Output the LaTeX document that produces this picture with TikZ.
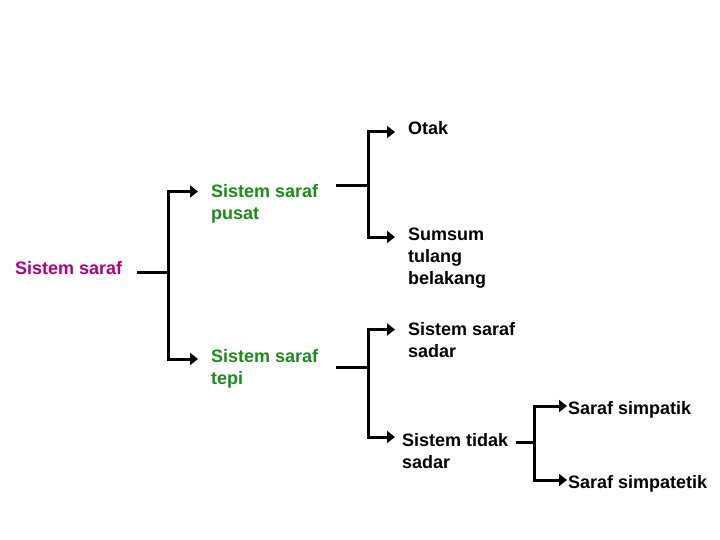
\documentclass[tikz,border=0pt]{standalone}
\usepackage{fontspec}
\setmainfont{Liberation Sans}
\usetikzlibrary{arrows.meta, calc, positioning}
\definecolor{sarafmagenta}{RGB}{175,0,125}
\definecolor{sarafgreen}{RGB}{25,140,25}
\tikzset{
  lbl/.style={anchor=base west, inner sep=0pt, align=left,
    font=\fontsize{18}{22}\selectfont\bfseries},
  bar/.style={line width=3pt, line join=miter},
  arr/.style={bar, -{Triangle[length=8pt, width=12pt]}}
}
\begin{document}
\begin{tikzpicture}[x=1pt, y=-1pt]
\useasboundingbox (0,0) rectangle (720,540);
% labels (base = last line)
\node[lbl, sarafmagenta] (ss) at (15,274) {Sistem saraf};
\node[lbl, sarafgreen] (pusat) at (211,219) {Sistem saraf\\pusat};
\node[lbl, sarafgreen] (tepi) at (211,384) {Sistem saraf\\tepi};
\node[lbl] (otak) at (408,135) {Otak};
\node[lbl] (sumsum) at (408,284) {Sumsum\\tulang\\belakang};
\node[lbl] (sadar) at (408,357) {Sistem saraf\\sadar};
\node[lbl] (tidak) at (402,468) {Sistem tidak\\sadar};
\node[lbl] (simpatik) at (568,414) {Saraf simpatik};
\node[lbl] (simpatetik) at (568,488) {Saraf simpatetik};
% junctions
\coordinate (j0) at (168,272);
\coordinate (j1) at (368,186);
\coordinate (j2) at (368,367);
\coordinate (j3) at (534,442);
% Sistem saraf
\draw[bar] (ss.east |- j0) ++(15,0) -- (j0);
\draw[arr] (j0) |- ([xshift=-13pt, yshift=27.5pt]pusat.base west);
\draw[arr] (j0) |- ([xshift=-13pt, yshift=25pt]tepi.base west);
% pusat
\draw[bar] (pusat.east |- j1) ++(18,0) -- (j1);
\draw[arr] (j1) |- ([xshift=-13pt, yshift=3pt]otak.base west);
\draw[arr] (j1) |- ([xshift=-13pt, yshift=47pt]sumsum.base west);
% tepi
\draw[bar] (tepi.east |- j2) ++(18,0) -- (j2);
\draw[arr] (j2) |- ([xshift=-13pt, yshift=27.5pt]sadar.base west);
\draw[arr] (j2) |- ([xshift=-7pt, yshift=31pt]tidak.base west);
% tidak sadar
\draw[bar] (tidak.east |- j3) ++(8,0) -- (j3);
\draw[arr] (j3) |- ([xshift=-1pt, yshift=8pt]simpatik.base west);
\draw[arr] (j3) |- ([xshift=-1pt, yshift=8pt]simpatetik.base west);
\end{tikzpicture}
\end{document}
